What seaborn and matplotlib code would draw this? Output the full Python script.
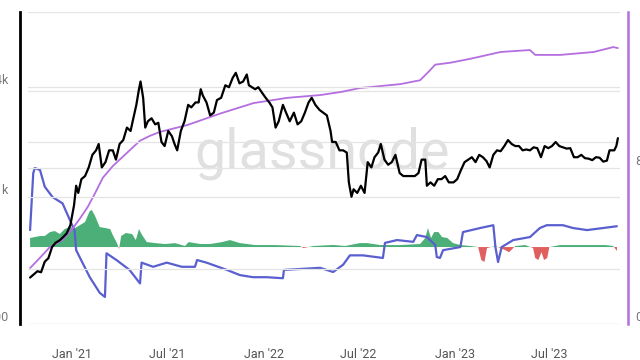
import matplotlib
matplotlib.use("Agg")
import numpy as np
import pandas as pd
import matplotlib.pyplot as plt
import matplotlib.dates as mdates
import matplotlib.ticker as mticker
import seaborn as sns

# ETH price (USD), left log axis
price_dates = [
    "2020-10-12", "2020-10-19", "2020-10-26", "2020-11-02", "2020-11-09", "2020-11-16",
    "2020-11-23", "2020-11-30", "2020-12-07", "2020-12-14", "2020-12-21", "2020-12-28",
    "2021-01-04", "2021-01-08", "2021-01-12", "2021-01-18", "2021-01-25", "2021-02-01",
    "2021-02-08", "2021-02-15", "2021-02-20", "2021-02-26", "2021-03-05", "2021-03-12",
    "2021-03-19", "2021-03-25", "2021-04-01", "2021-04-08", "2021-04-15", "2021-04-22",
    "2021-04-26", "2021-05-03", "2021-05-08", "2021-05-11", "2021-05-16", "2021-05-20",
    "2021-05-25", "2021-06-01", "2021-06-08", "2021-06-14", "2021-06-20", "2021-06-26",
    "2021-07-03", "2021-07-10", "2021-07-15", "2021-07-20", "2021-07-27", "2021-08-03",
    "2021-08-10", "2021-08-16", "2021-08-24", "2021-08-30", "2021-09-03", "2021-09-07",
    "2021-09-14", "2021-09-21", "2021-09-28", "2021-10-04", "2021-10-12", "2021-10-20",
    "2021-10-27", "2021-11-03", "2021-11-09", "2021-11-16", "2021-11-23", "2021-11-30",
    "2021-12-04", "2021-12-10", "2021-12-16", "2021-12-22", "2021-12-30", "2022-01-05",
    "2022-01-12", "2022-01-18", "2022-01-24", "2022-01-30", "2022-02-07", "2022-02-13",
    "2022-02-20", "2022-02-28", "2022-03-07", "2022-03-14", "2022-03-21", "2022-03-28",
    "2022-04-03", "2022-04-10", "2022-04-18", "2022-04-25", "2022-05-02", "2022-05-09",
    "2022-05-12", "2022-05-19", "2022-05-26", "2022-06-02", "2022-06-09", "2022-06-13",
    "2022-06-18", "2022-06-22", "2022-06-29", "2022-07-06", "2022-07-13", "2022-07-19",
    "2022-07-26", "2022-08-01", "2022-08-08", "2022-08-13", "2022-08-20", "2022-08-27",
    "2022-09-03", "2022-09-10", "2022-09-18", "2022-09-25", "2022-10-03", "2022-10-10",
    "2022-10-17", "2022-10-24", "2022-10-30", "2022-11-06", "2022-11-09", "2022-11-16",
    "2022-11-23", "2022-11-30", "2022-12-07", "2022-12-14", "2022-12-21", "2022-12-30",
    "2023-01-06", "2023-01-13", "2023-01-20", "2023-01-27", "2023-02-03", "2023-02-10",
    "2023-02-17", "2023-02-24", "2023-03-03", "2023-03-09", "2023-03-16", "2023-03-23",
    "2023-03-30", "2023-04-06", "2023-04-13", "2023-04-20", "2023-04-27", "2023-05-04",
    "2023-05-11", "2023-05-18", "2023-05-25", "2023-06-01", "2023-06-08", "2023-06-15",
    "2023-06-22", "2023-06-29", "2023-07-06", "2023-07-13", "2023-07-20", "2023-07-27",
    "2023-08-03", "2023-08-10", "2023-08-17", "2023-08-24", "2023-08-31", "2023-09-07",
    "2023-09-14", "2023-09-21", "2023-09-28", "2023-10-05", "2023-10-12", "2023-10-19",
    "2023-10-24", "2023-11-02", "2023-11-06", "2023-11-09",
]
price_usd = [
    360, 375, 390, 385, 440, 460,
    530, 560, 575, 600, 630, 700,
    900, 1150, 1050, 1250, 1300, 1450,
    1700, 1800, 1950, 1450, 1550, 1800,
    1800, 1600, 1950, 2050, 2400, 2300,
    2600, 3200, 3900, 4300, 3500, 2400,
    2600, 2700, 2500, 2550, 2000, 1900,
    2300, 2150, 1950, 1800, 2300, 2600,
    3200, 3100, 3300, 3300, 3900, 3600,
    3300, 2800, 2900, 3400, 3500, 4100,
    4000, 4500, 4800, 4200, 4300, 4700,
    4100, 4000, 3900, 4000, 3700, 3500,
    3300, 3100, 2400, 2600, 3200, 2900,
    2600, 2900, 2500, 2600, 2900, 3300,
    3500, 3200, 3000, 2900, 2800, 2300,
    2000, 2000, 1800, 1800, 1750, 1200,
    1000, 1100, 1050, 1150, 1050, 1550,
    1450, 1650, 1750, 1950, 1600, 1500,
    1550, 1700, 1350, 1300, 1300, 1300,
    1300, 1350, 1600, 1600, 1150, 1200,
    1150, 1250, 1250, 1300, 1200, 1200,
    1250, 1400, 1550, 1600, 1650, 1550,
    1700, 1650, 1570, 1450, 1700, 1800,
    1780, 1900, 2050, 1950, 1900, 1900,
    1800, 1820, 1800, 1870, 1850, 1650,
    1900, 1850, 1900, 2000, 1900, 1870,
    1840, 1850, 1650, 1650, 1700, 1630,
    1620, 1590, 1650, 1640, 1560, 1580,
    1800, 1800, 1900, 2100,
]

# cumulative staked (M), right axis
staked_dates = [
    "2020-10-12", "2020-10-31", "2020-11-19", "2020-12-13", "2021-01-02", "2021-01-15",
    "2021-01-30", "2021-02-13", "2021-02-28", "2021-03-19", "2021-04-20", "2021-05-10",
    "2021-05-29", "2021-06-17", "2021-08-08", "2021-10-11", "2021-12-13", "2022-02-16",
    "2022-04-19", "2022-05-29", "2022-07-04", "2022-09-19", "2022-10-27", "2022-11-11",
    "2022-11-25", "2022-12-24", "2023-01-31", "2023-03-30", "2023-05-25", "2023-06-04",
    "2023-07-22", "2023-09-24", "2023-10-31", "2023-11-09",
]
staked_m = [
    2.87, 3.4, 3.95, 4.31, 4.92, 5.4,
    6.0, 6.7, 7.5, 8.1, 8.9, 9.4,
    9.65, 9.85, 10.2, 10.8, 11.33, 11.6,
    11.74, 11.9, 12.1, 12.3, 12.5, 12.9,
    13.3, 13.4, 13.6, 13.95, 14.05, 13.8,
    13.8, 13.95, 14.2, 14.15,
]

# oscillator (blue line)
osc_dates = [
    "2020-10-12", "2020-10-18", "2020-10-21", "2020-10-31", "2020-11-09", "2020-11-24",
    "2020-12-13", "2020-12-27", "2021-01-05", "2021-01-08", "2021-01-15", "2021-02-03",
    "2021-02-22", "2021-03-04", "2021-03-07", "2021-03-26", "2021-04-20", "2021-05-10",
    "2021-05-13", "2021-06-04", "2021-06-30", "2021-07-29", "2021-08-23", "2021-08-27",
    "2021-09-14", "2021-10-23", "2021-11-17", "2021-12-12", "2022-01-07", "2022-02-07",
    "2022-02-09", "2022-04-19", "2022-05-14", "2022-06-02", "2022-06-15", "2022-07-10",
    "2022-08-17", "2022-08-21", "2022-09-13", "2022-10-14", "2022-10-21", "2022-11-09",
    "2022-11-25", "2022-11-28", "2022-12-04", "2022-12-10", "2023-01-12", "2023-01-17",
    "2023-02-19", "2023-03-16", "2023-03-20", "2023-03-25", "2023-04-01", "2023-04-23",
    "2023-05-25", "2023-06-13", "2023-06-26", "2023-07-27", "2023-08-15", "2023-09-11",
    "2023-10-12", "2023-11-07",
]
osc_values = [
    1.63, 7.1, 7.6, 7.4, 5.8, 4.8,
    4.2, 2.6, 1.6, -0.3, -1.0, -2.9,
    -4.4, -4.8, -0.6, -1.25, -2.2, -3.5,
    -1.5, -1.9, -1.5, -1.9, -1.9, -1.25,
    -1.5, -2.2, -2.7, -2.9, -2.9, -3.0,
    -2.2, -2.0, -2.4, -1.7, -0.8, -0.8,
    -1.05, 0.4, 0.67, 0.5, 1.15, 0.96,
    0.2, -0.96, -1.05, -0.3, 0.0, 1.44,
    1.83, 2.1, 0.0, -1.44, 0.0, 0.67,
    0.96, 1.83, 2.1, 2.1, 1.83, 1.63,
    1.83, 2.0,
]

# flow histogram (green positive / red negative)
flow_dates = [
    "2020-10-12", "2020-10-21", "2020-10-31", "2020-11-09", "2020-11-19", "2020-11-28",
    "2020-12-08", "2020-12-17", "2020-12-27", "2021-01-06", "2021-01-15", "2021-01-25",
    "2021-01-30", "2021-02-03", "2021-02-07", "2021-02-13", "2021-02-22", "2021-03-04",
    "2021-03-14", "2021-03-19", "2021-03-27", "2021-03-31", "2021-04-04", "2021-04-13",
    "2021-04-25", "2021-05-02", "2021-05-08", "2021-05-14", "2021-05-23", "2021-06-08",
    "2021-06-27", "2021-07-16", "2021-08-04", "2021-08-11", "2021-09-02", "2021-09-21",
    "2021-10-14", "2021-10-29", "2021-11-17", "2021-12-16", "2022-01-23", "2022-03-12",
    "2022-03-18", "2022-04-06", "2022-05-14", "2022-06-06", "2022-07-04", "2022-07-18",
    "2022-08-12", "2022-09-19", "2022-10-27", "2022-11-06", "2022-11-11", "2022-11-17",
    "2022-11-23", "2022-12-01", "2022-12-08", "2022-12-18", "2022-12-29", "2023-01-12",
    "2023-01-31", "2023-02-15", "2023-02-21", "2023-02-27", "2023-03-04", "2023-03-20",
    "2023-04-08", "2023-04-15", "2023-04-27", "2023-05-16", "2023-05-31", "2023-06-04",
    "2023-06-10", "2023-06-16", "2023-06-21", "2023-06-27", "2023-07-01", "2023-07-22",
    "2023-08-20", "2023-09-18", "2023-10-16", "2023-10-31", "2023-11-07",
]
flow_values = [
    0.87, 0.96, 1.06, 1.06, 1.44, 1.54,
    1.25, 1.73, 1.92, 1.83, 2.1, 2.4,
    3.0, 3.46, 3.56, 3.0, 1.92, 1.83,
    1.73, 1.15, 0.38, -0.2, 1.06, 1.35,
    1.25, 0.67, 1.73, 1.15, 0.48, 0.38,
    0.29, 0.38, 0.1, 0.48, 0.29, 0.29,
    0.48, 0.67, 0.38, 0.19, 0.19, 0.1,
    -0.1, 0.1, 0.2, 0.1, 0.38, 0.38,
    0.19, 0.19, 0.29, 0.87, 1.83, 0.87,
    1.44, 1.44, 0.96, 0.87, 0.38, 0.19,
    0.1, 0.0, -1.25, -1.44, -0.1, 0.1,
    -0.3, -0.5, 0.1, 0.19, -0.1, -1.05,
    -1.25, -0.5, -1.25, -1.05, 0.0, 0.19,
    0.19, 0.19, 0.19, 0.1, -0.4,
]

price_ticks = [200, 400, 1000, 2000, 4000]
price_labels = ["$200", "", "$1k", "", "$4k"]
staked_ticks = [0, 8, 16]
staked_labels = ["0", "8M", ""]

sns.set_theme(style="white")
plt.rcParams["font.family"] = ["Roboto", "DejaVu Sans"]

grid_c = "#e4e4e4"
black = "#000000"
purple = "#b46ee0"
blue = "#5a5fd0"
green = "#4caf78"
red = "#e06060"

fig = plt.figure(figsize=(6.4, 3.6), dpi=100)
ax = fig.add_axes([28 / 640, 36 / 360, 592 / 640, 312 / 360])

flow_t = pd.to_datetime(flow_dates)
flow_v = np.array(flow_values)
ax.fill_between(flow_t, 0, flow_v, where=flow_v >= 0, interpolate=True,
                color=green, lw=0, zorder=2)
ax.fill_between(flow_t, 0, flow_v, where=flow_v <= 0, interpolate=True,
                color=red, lw=0, zorder=2)
sns.lineplot(x=pd.to_datetime(osc_dates), y=osc_values, ax=ax,
             color=blue, lw=1.6, zorder=3)

# watermark
ax.text(0.497, 0.5, "glassnode", transform=ax.transAxes, ha="center", va="baseline",
        fontsize=40, color="#e0e0e0", zorder=1)

ax.set_ylim(-7.4, 22.6)
ax.set_yticks([15])
ax.set_yticklabels([])
ax.tick_params(axis="y", length=0)
ax.grid(True, axis="y", color=grid_c, lw=0.9)
ax.set_axisbelow(True)
for s in ax.spines.values():
    s.set_visible(False)

ax.set_xlim(pd.Timestamp("2020-10-08"), pd.Timestamp("2023-11-13"))
ax.xaxis.set_major_locator(mdates.MonthLocator(bymonth=[1, 7]))
ax.xaxis.set_major_formatter(mdates.DateFormatter("%b '%y"))
ax.spines["bottom"].set_position(("outward", 7))
ax.tick_params(axis="x", length=7, width=0.9, color=grid_c, labelcolor="#555555",
               labelsize=9, pad=3)
ax.set_xlabel("")

# staked axis (right, purple)
ax_st = ax.twinx()
sns.lineplot(x=pd.to_datetime(staked_dates), y=staked_m, ax=ax_st,
             color=purple, lw=1.3)
ax_st.set_ylim(0, 16)
ax_st.yaxis.set_major_locator(mticker.FixedLocator(staked_ticks))
ax_st.set_yticklabels(staked_labels)
ax_st.grid(True, axis="y", color=grid_c, lw=0.9)
for s in ax_st.spines.values():
    s.set_visible(False)
ax_st.spines["right"].set_visible(True)
ax_st.spines["right"].set_color(purple)
ax_st.spines["right"].set_linewidth(1.8)
ax_st.spines["right"].set_position(("outward", 6))
ax_st.tick_params(axis="y", length=0, labelsize=9, labelcolor="#777777", pad=5)
for lab in ax_st.get_yticklabels():
    lab.set_verticalalignment("bottom")
ax_st.set_ylabel("")

# price axis (left, log)
ax_px = ax.twinx()
sns.lineplot(x=pd.to_datetime(price_dates), y=price_usd, ax=ax_px,
             color=black, lw=1.6)
ax_px.set_yscale("log")
ax_px.set_ylim(200, 10360)
ax_px.yaxis.tick_left()
ax_px.yaxis.set_major_locator(mticker.FixedLocator(price_ticks))
ax_px.yaxis.set_minor_locator(mticker.NullLocator())
ax_px.set_yticklabels(price_labels)
ax_px.grid(True, axis="y", color=grid_c, lw=0.9)
for s in ax_px.spines.values():
    s.set_visible(False)
ax_px.spines["left"].set_visible(True)
ax_px.spines["left"].set_color(black)
ax_px.spines["left"].set_linewidth(2)
ax_px.spines["left"].set_position(("outward", 6))
ax_px.tick_params(axis="y", length=0, labelsize=9, labelcolor="#777777", pad=8)
for lab in ax_px.get_yticklabels():
    lab.set_verticalalignment("bottom")
ax_px.set_ylabel("")
ax_px.set_xlim(pd.Timestamp("2020-10-08"), pd.Timestamp("2023-11-13"))

fig.savefig("out.png", dpi=100)
